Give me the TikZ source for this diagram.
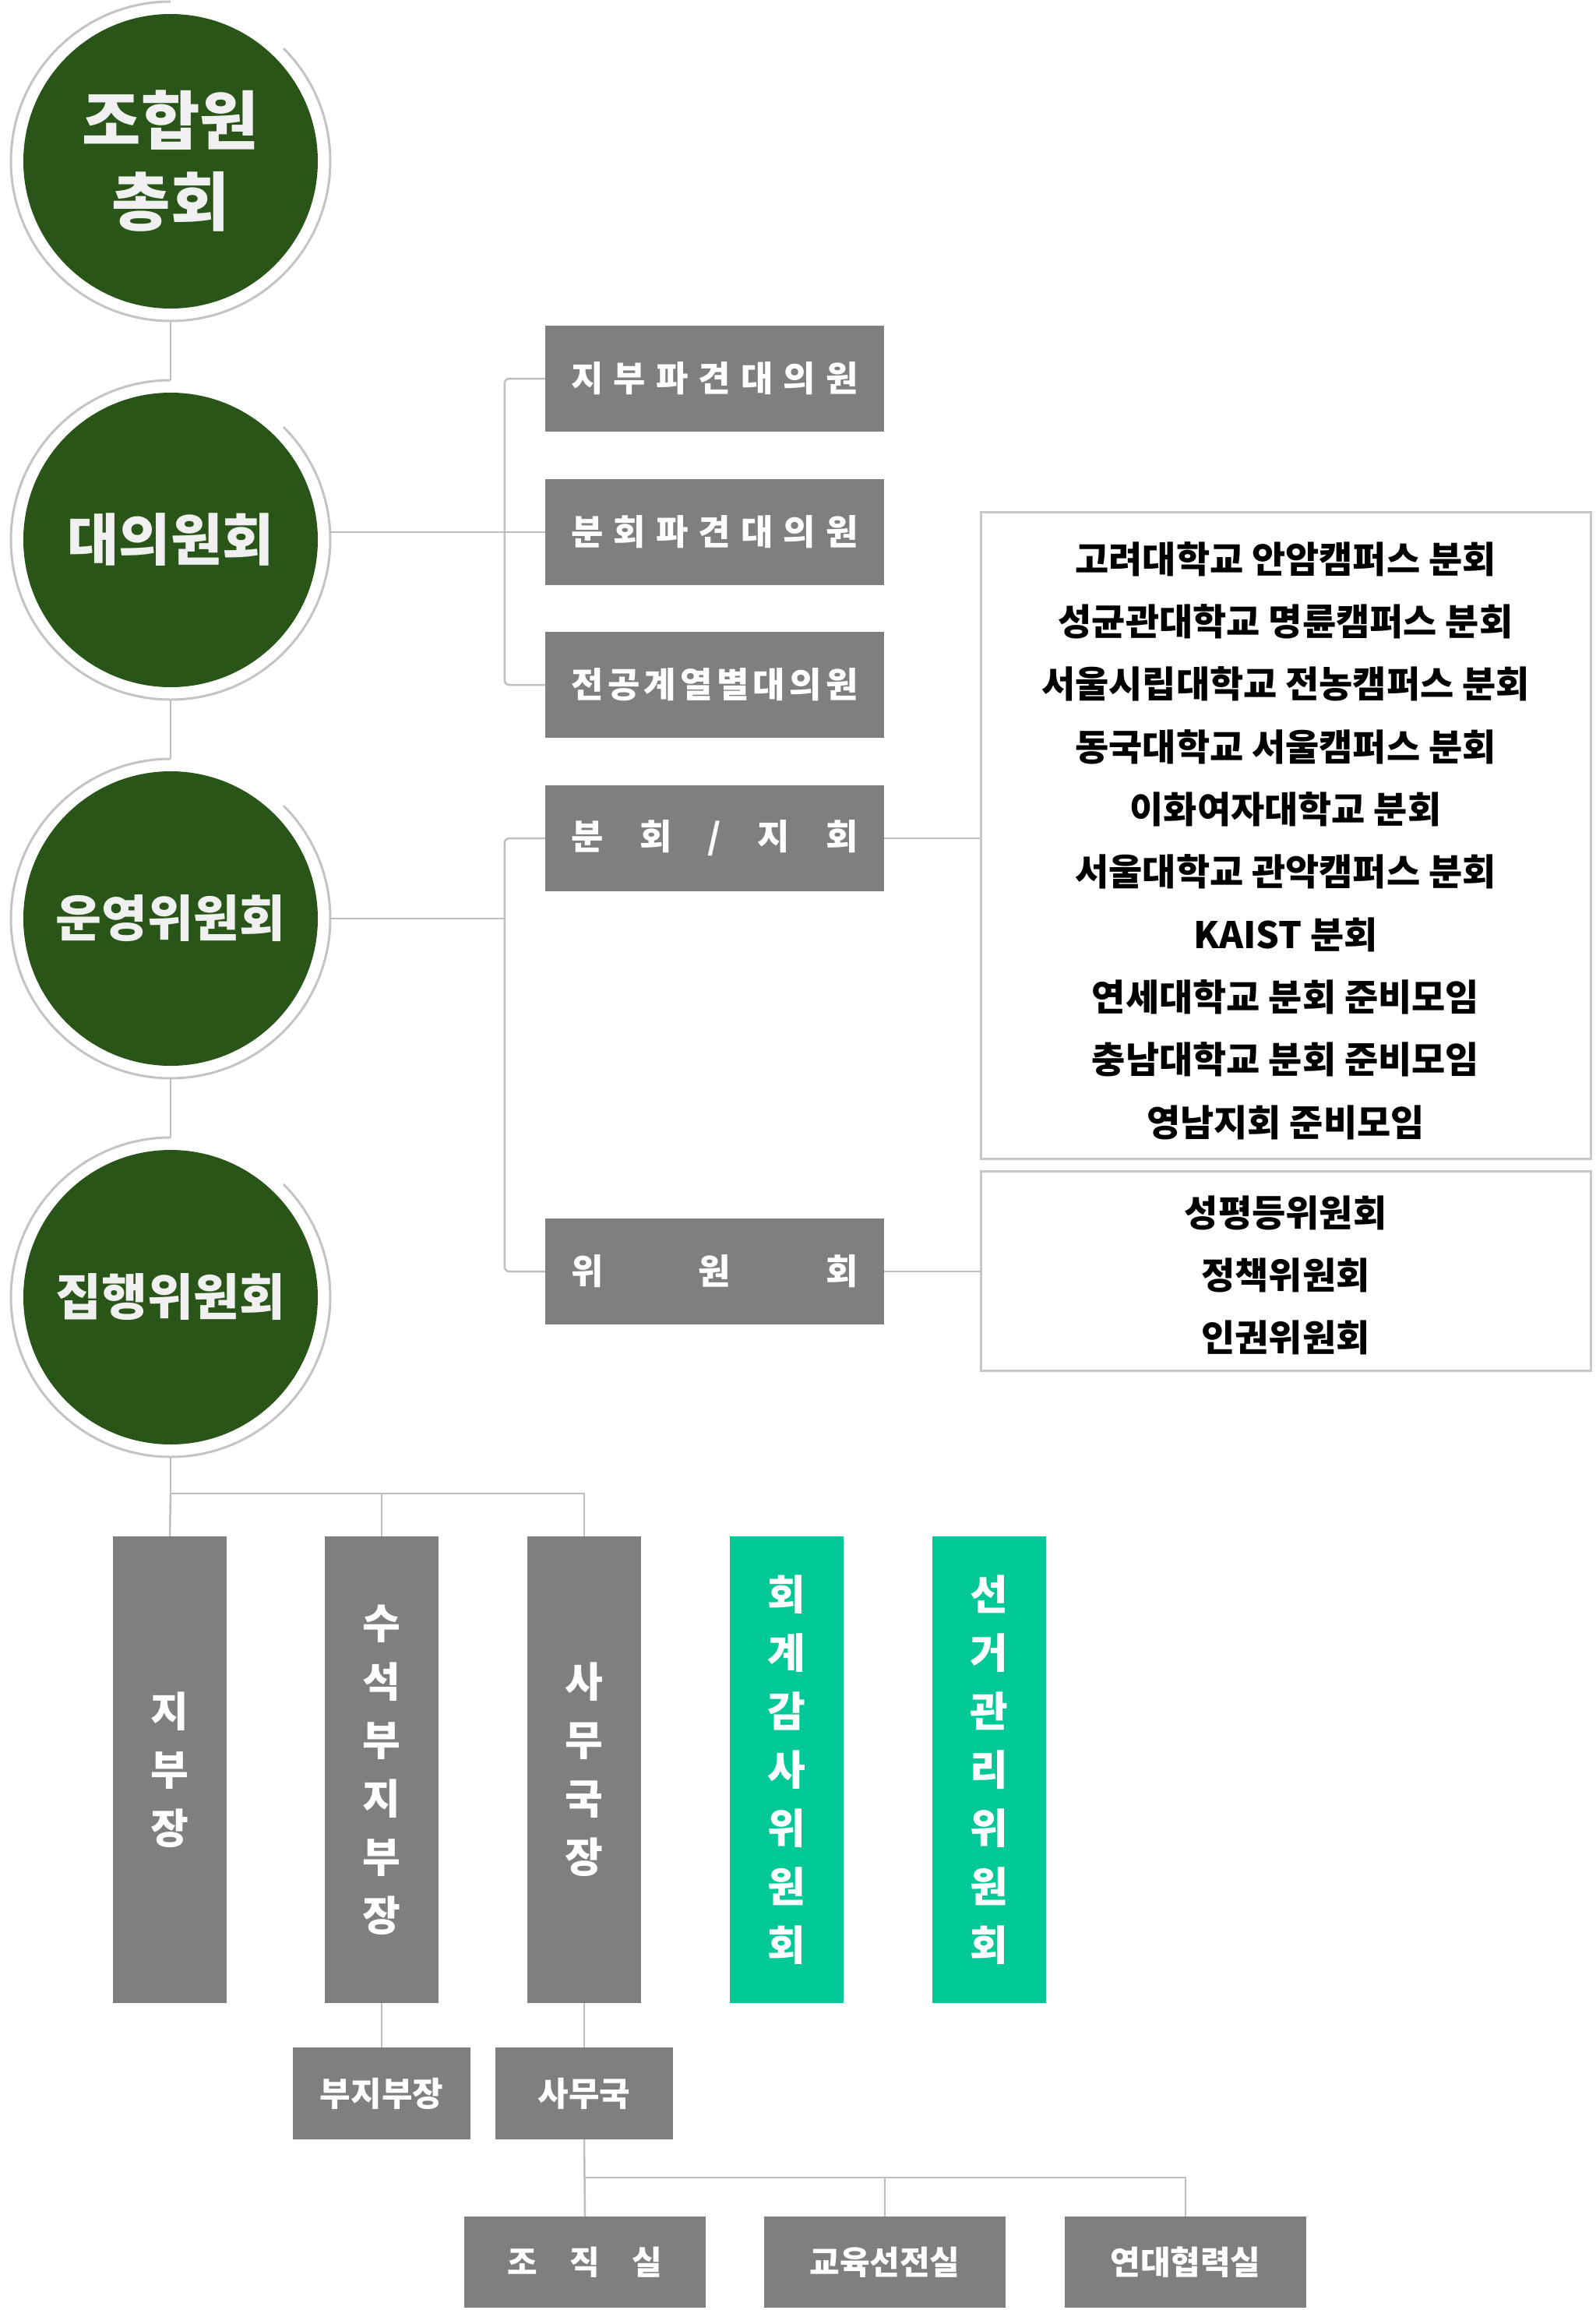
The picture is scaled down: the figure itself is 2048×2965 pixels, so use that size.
\documentclass[tikz,border=0pt]{standalone}
\usepackage{fontspec}
\setmainfont{Noto Sans CJK KR}
\definecolor{dkgreen}{HTML}{2A5519}
\definecolor{boxgray}{HTML}{7F7F7F}
\definecolor{brgreen}{HTML}{00C896}
\definecolor{linegray}{HTML}{BFBFBF}
\definecolor{ringgray}{HTML}{C4C4C4}
\definecolor{listgray}{HTML}{C8C8C8}
\definecolor{ctext}{HTML}{F0F0F0}
\tikzset{
  orgcircle/.style={circle, fill=dkgreen, minimum size=378pt, inner sep=0pt, outer sep=16pt, text=ctext, align=center},
  ring/.style={draw=ringgray, line width=3pt},
  conn/.style={draw=linegray, line width=2.5pt},
  graybox/.style={rectangle, fill=boxgray, minimum width=435pt, minimum height=136pt, inner sep=0pt, text=white, font=\bfseries\fontsize{45}{50}\selectfont},
  listbox/.style={rectangle, draw=listgray, line width=3pt, minimum width=783pt, inner sep=0pt},
  listtext/.style={align=center, text=black, inner sep=0pt, font=\bfseries\fontsize{47}{80.3}\selectfont},
  vbox/.style={rectangle, fill=boxgray, minimum width=146pt, minimum height=599pt, inner sep=0pt, text=white, align=center, font=\bfseries\fontsize{53}{75}\selectfont},
  gbox/.style={vbox, fill=brgreen},
  subbox/.style={rectangle, fill=boxgray, minimum width=228pt, minimum height=118pt, inner sep=0pt, text=white, font=\bfseries\fontsize{43}{48}\selectfont},
  botbox/.style={rectangle, fill=boxgray, minimum width=310pt, minimum height=117pt, inner sep=0pt, text=white, font=\bfseries\fontsize{42}{48}\selectfont}
}
\begin{document}
\begin{tikzpicture}[x=1pt,y=-1pt]
\useasboundingbox (0,0) rectangle (2048,2965);
% circles
\node[orgcircle, font=\bfseries\fontsize{82}{104}\selectfont] (c1) at (219,207) {조합원\\총회};
\node[orgcircle, font=\bfseries\fontsize{72}{80}\selectfont] (c2) at (219,693) {대의원회};
\node[orgcircle, font=\bfseries\fontsize{64}{70}\selectfont] (c3) at (219,1179) {운영위원회};
\node[orgcircle, font=\bfseries\fontsize{64}{70}\selectfont] (c4) at (219,1665) {집행위원회};
\foreach \c in {c1,c2,c3,c4}{
  \draw[ring] ([shift={(45:205pt)}]\c.center) arc[start angle=45, end angle=-270, radius=205pt];
}
\draw[conn] (c1.south) -- (c2.north);
\draw[conn] (c2.south) -- (c3.north);
\draw[conn] (c3.south) -- (c4.north);
% right boxes
\node[graybox] (b1) at (917.5,486) {\makebox[368pt]{지\hfill 부\hfill 파\hfill 견\hfill 대\hfill 의\hfill 원}};
\node[graybox] (b2) at (917.5,683) {\makebox[368pt]{분\hfill 회\hfill 파\hfill 견\hfill 대\hfill 의\hfill 원}};
\node[graybox] (b3) at (917.5,879) {\makebox[368pt]{전\hfill 공\hfill 계\hfill 열\hfill 별\hfill 대\hfill 의\hfill 원}};
\node[graybox] (b4) at (917.5,1076) {\makebox[368pt]{분\hfill 회\hfill /\hfill 지\hfill 회}};
\node[graybox] (b5) at (917.5,1632) {\makebox[368pt]{위\hfill 원\hfill 회}};
\coordinate (k1) at ([xshift=-52pt]b1.west);
\coordinate (k2) at ([xshift=-52pt]b4.west);
\draw[conn] (b2.west -| c2.east) -- (b2.west);
\draw[conn, rounded corners=6pt] (b1.west) -- (k1) -- (k1 |- b3.west) -- (b3.west);
\draw[conn] (c3.east) -- (k2 |- c3.east);
\draw[conn, rounded corners=6pt] (b4.west) -- (k2) -- (k2 |- b5.west) -- (b5.west);
% list boxes
\node[listbox, minimum height=830pt] (lst1) at (1650.5,1072) {};
\node[listtext] (lst1t) at (1650.5,1079) {고려대학교 안암캠퍼스 분회\\성균관대학교 명륜캠퍼스 분회\\서울시립대학교 전농캠퍼스 분회\\동국대학교 서울캠퍼스 분회\\이화여자대학교 분회\\서울대학교 관악캠퍼스 분회\\KAIST 분회\\연세대학교 분회 준비모임\\충남대학교 분회 준비모임\\영남지회 준비모임};
\node[listbox, minimum height=256pt] (lst2) at (1650.5,1631) {};
\node[listtext] (lst2t) at (1650.5,1637) {성평등위원회\\정책위원회\\인권위원회};
\draw[conn] (b4.east) -- (b4.east -| lst1.west);
\draw[conn] (b5.east) -- (b5.east -| lst2.west);
% lower part
\node[vbox] (v1) at (218,2271.5) {지\\부\\장};
\node[vbox] (v2) at (490,2271.5) {수\\석\\부\\지\\부\\장};
\node[vbox] (v3) at (750,2271.5) {사\\무\\국\\장};
\node[gbox] (g1) at (1010,2271.5) {회\\계\\감\\사\\위\\원\\회};
\node[gbox] (g2) at (1270,2271.5) {선\\거\\관\\리\\위\\원\\회};
\coordinate (j0) at (219,1917);
\draw[conn] (c4.south) -- (j0) -- (j0 -| v3.north) -- (v3.north);
\draw[conn] (j0) -- (v1.north);
\draw[conn] (j0 -| v2.north) -- (v2.north);
\node[subbox] (s1) at (490,2687) {부지부장};
\node[subbox] (s2) at (750,2687) {사무국};
\draw[conn] (v2.south) -- (s1.north);
\draw[conn] (v3.south) -- (s2.north);
\node[botbox] (d1) at (751,2903.5) {\makebox[199pt]{조\hfill 직\hfill 실}};
\node[botbox] (d2) at (1136,2903.5) {교육선전실};
\node[botbox] (d3) at (1522,2903.5) {연대협력실};
\coordinate (j1) at (751,2795);
\draw[conn] (s2.south) -- (d1.north);
\draw[conn] (j1) -- (j1 -| d3.north) -- (d3.north);
\draw[conn] (j1 -| d2.north) -- (d2.north);
\end{tikzpicture}
\end{document}
